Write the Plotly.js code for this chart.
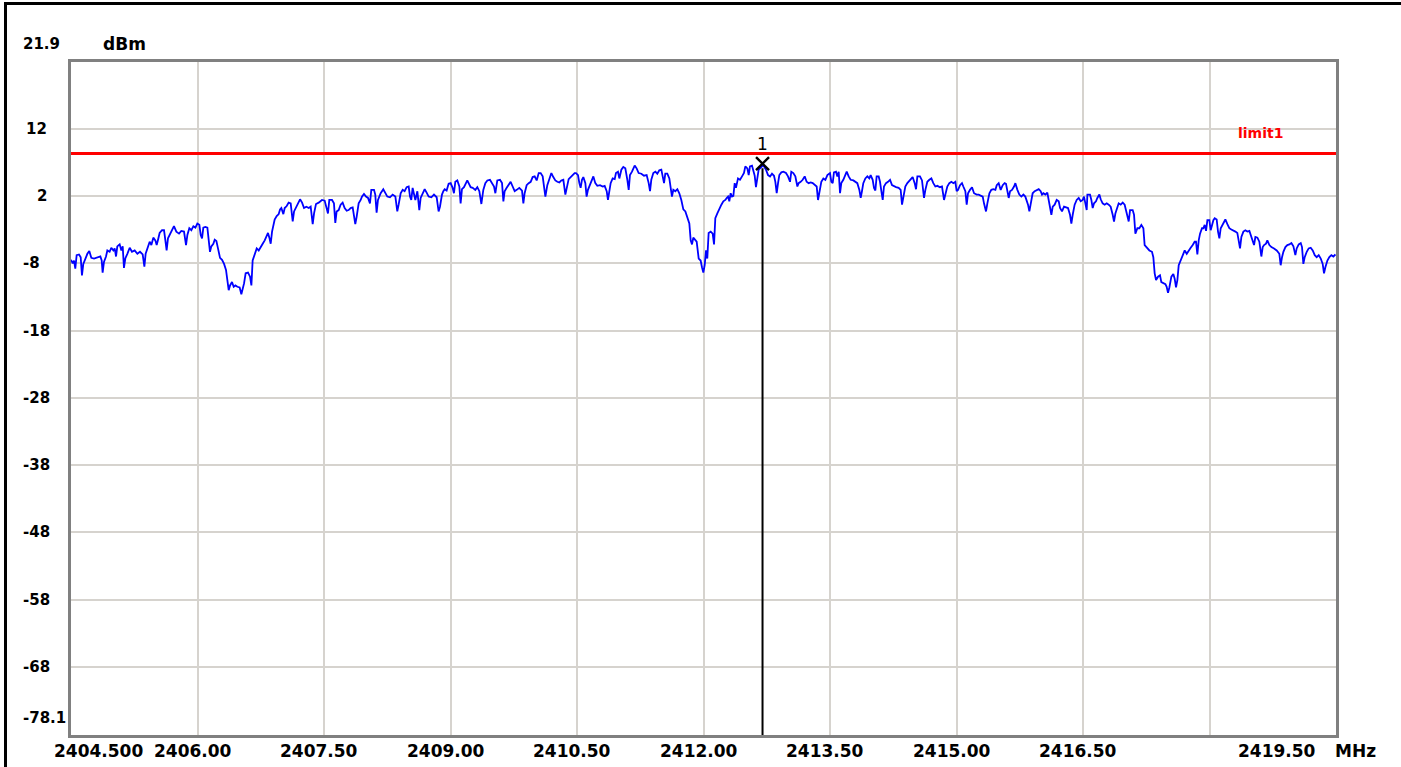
<!DOCTYPE html>
<html>
<head>
<meta charset="utf-8">
<script src="https://cdn.plot.ly/plotly-3.0.1.min.js"></script>
<style>
  html, body { margin: 0; padding: 0; background: #ffffff; overflow: hidden; }
  #chart { width: 1401px; height: 767px; }
  #frame { position: absolute; left: 4px; top: 2px; width: 1401px; height: 800px;
           border-left: 3px solid #000; border-top: 3px solid #000; pointer-events: none; }
</style>
</head>
<body>
<div id="chart"></div>
<div id="frame"></div>
<script>
// ---- axis definition ----
const xStart = 2404.5, xStop = 2419.5;
const yTop = 21.9, yBottom = -78.1;
const xGridVals = [2406.0, 2407.5, 2409.0, 2410.5, 2412.0, 2413.5, 2415.0, 2416.5, 2418.0];
const yGridVals = [12, 2, -8, -18, -28, -38, -48, -58, -68];
const xLabelVals = [2404.5, 2406.0, 2407.5, 2409.0, 2410.5, 2412.0, 2413.5, 2415.0, 2416.5, 2419.5];
const xLabelText = ['2404.500', '2406.00', '2407.50', '2409.00', '2410.50', '2412.00', '2413.50', '2415.00', '2416.50', '2419.50'];
const yLabelVals = [21.9, 12, 2, -8, -18, -28, -38, -48, -58, -68, -78.1];
const yLabelText = ['21.9', '12', '2', '-8', '-18', '-28', '-38', '-48', '-58', '-68', '-78.1'];
const xUnit = 'MHz', yUnit = 'dBm';

// ---- limit line and marker ----
const limitName = 'limit1';
const limitDbm = 8.3;
const markerName = '1';
const markerFreq = 2412.70;
const markerDbm = 6.8;

// ---- spectrum trace (MHz, dBm) ----
const freqMHz = [
2404.500,2404.520,2404.536,2404.551,2404.567,2404.595,2404.615,2404.630,2404.646,2404.670,
2404.694,2404.717,2404.741,2404.773,2404.812,2404.848,2404.864,2404.875,2404.891,2404.915,
2404.931,2404.958,2404.978,2405.002,2405.018,2405.034,2405.049,2405.077,2405.097,2405.113,
2405.128,2405.144,2405.168,2405.196,2405.223,2405.255,2405.287,2405.318,2405.350,2405.370,
2405.385,2405.413,2405.433,2405.453,2405.476,2405.500,2405.516,2405.532,2405.551,2405.579,
2405.603,2405.619,2405.634,2405.650,2405.670,2405.698,2405.721,2405.749,2405.781,2405.808,
2405.840,2405.864,2405.880,2405.903,2405.927,2405.951,2405.975,2405.998,2406.022,2406.038,
2406.054,2406.069,2406.093,2406.117,2406.133,2406.148,2406.164,2406.188,2406.204,2406.224,
2406.243,2406.267,2406.291,2406.315,2406.338,2406.354,2406.370,2406.386,2406.409,2406.429,
2406.449,2406.473,2406.500,2406.520,2406.536,2406.552,2406.571,2406.599,2406.623,2406.639,
2406.654,2406.678,2406.702,2406.726,2406.749,2406.773,2406.797,2406.820,2406.836,2406.852,
2406.868,2406.884,2406.899,2406.915,2406.939,2406.963,2406.979,2406.994,2407.018,2407.034,
2407.058,2407.081,2407.105,2407.129,2407.145,2407.168,2407.192,2407.216,2407.240,2407.263,
2407.291,2407.319,2407.342,2407.366,2407.382,2407.405,2407.437,2407.469,
2407.476,2407.508,2407.531,2407.547,2407.563,2407.595,2407.618,2407.634,2407.650,2407.674,
2407.697,2407.721,2407.745,2407.769,2407.792,2407.816,2407.840,2407.855,2407.871,2407.887,
2407.911,2407.935,2407.950,2407.974,2407.998,2408.022,2408.045,2408.061,2408.093,2408.108,
2408.124,2408.140,2408.172,2408.203,2408.227,2408.251,2408.282,2408.314,2408.346,2408.369,
2408.385,2408.409,2408.433,2408.456,2408.480,2408.504,2408.520,2408.535,2408.551,2408.567,
2408.583,2408.607,2408.630,2408.646,2408.670,2408.694,2408.717,2408.741,2408.773,2408.804,
2408.836,2408.859,2408.875,2408.899,2408.915,2408.931,2408.954,2408.978,2409.002,2409.025,
2409.041,2409.057,2409.081,2409.105,2409.120,2409.136,2409.160,2409.184,2409.199,2409.215,
2409.239,2409.263,2409.294,2409.318,2409.342,2409.366,2409.389,2409.413,2409.437,2409.468,
2409.492,2409.516,2409.532,2409.555,2409.587,2409.611,2409.627,2409.642,2409.666,2409.690,
2409.713,2409.737,2409.761,2409.785,2409.816,2409.848,2409.864,2409.879,2409.903,2409.927,
2409.951,2409.974,2409.998,2410.022,2410.046,2410.069,2410.093,2410.109,2410.125,2410.148,
2410.172,2410.196,2410.219,2410.243,2410.267,2410.291,2410.314,2410.338,2410.362,2410.378,
2410.401,2410.425,2410.449,2410.472,
2410.488,2410.512,2410.528,2410.543,2410.559,2410.575,2410.599,2410.614,2410.630,2410.646,
2410.670,2410.694,2410.717,2410.741,2410.773,2410.804,2410.828,2410.852,2410.867,2410.883,
2410.899,2410.923,2410.947,2410.962,2410.986,2411.002,2411.026,2411.049,2411.073,2411.097,
2411.113,2411.128,2411.152,2411.184,2411.207,2411.231,2411.263,2411.294,2411.326,2411.350,
2411.366,2411.381,2411.405,2411.429,2411.452,2411.476,2411.500,2411.516,2411.532,2411.547,
2411.571,2411.595,2411.611,2411.626,2411.642,2411.666,2411.690,2411.713,2411.737,2411.761,
2411.785,2411.808,2411.832,2411.848,2411.864,2411.879,2411.903,2411.919,2411.943,2411.966,
2411.982,2411.998,2412.014,2412.030,2412.045,2412.061,2412.085,2412.109,2412.125,2412.140,
2412.164,2412.188,2412.212,2412.235,2412.259,2412.275,2412.291,2412.306,2412.322,2412.338,
2412.354,2412.370,2412.385,2412.409,2412.433,2412.457,2412.480,2412.496,2412.520,2412.536,
2412.551,2412.575,2412.591,2412.607,2412.622,2412.638,2412.654,2412.670,2412.686,2412.702,
2412.717,2412.741,2412.765,2412.789,2412.812,2412.836,2412.852,2412.868,2412.884,2412.899,
2412.923,2412.947,2412.978,2413.002,2413.026,2413.041,2413.065,2413.089,2413.113,2413.128,
2413.152,2413.176,2413.200,2413.223,2413.247,2413.271,2413.295,2413.318,2413.342,2413.358,
2413.374,2413.397,2413.421,2413.445,2413.469,2413.492,
2413.500,2413.516,2413.532,2413.547,2413.571,2413.587,2413.603,2413.619,2413.634,2413.658,
2413.682,2413.698,2413.721,2413.745,2413.777,2413.800,2413.824,2413.848,2413.864,2413.879,
2413.895,2413.919,2413.943,2413.966,2413.982,2414.006,2414.022,2414.038,2414.053,2414.077,
2414.093,2414.109,2414.125,2414.140,2414.164,2414.188,2414.212,2414.235,2414.259,2414.283,
2414.314,2414.338,2414.354,2414.370,2414.393,2414.417,2414.441,2414.457,2414.480,2414.504,
2414.520,2414.536,2414.567,2414.591,2414.615,2414.631,2414.654,2414.678,2414.702,2414.725,
2414.749,2414.773,2414.804,2414.828,2414.852,2414.868,2414.891,2414.915,2414.939,2414.963,
2414.986,2415.002,2415.018,2415.042,2415.065,2415.081,2415.105,2415.121,2415.137,2415.160,
2415.184,2415.208,2415.239,2415.263,2415.287,2415.311,2415.326,2415.350,2415.366,2415.390,
2415.413,2415.437,2415.461,2415.477,2415.500,2415.524,2415.548,2415.571,2415.587,2415.603,
2415.619,2415.635,2415.658,2415.682,2415.698,2415.722,2415.745,2415.769,2415.793,2415.816,
2415.832,2415.848,2415.864,2415.880,2415.903,2415.927,2415.951,2415.975,2415.998,2416.014,
2416.030,2416.054,2416.077,2416.093,2416.109,2416.125,2416.141,2416.164,2416.188,2416.212,
2416.228,2416.251,2416.275,2416.299,2416.322,2416.346,2416.362,2416.378,2416.401,2416.425,
2416.449,2416.473,2416.496,
2416.512,2416.528,2416.544,2416.552,2416.583,2416.599,2416.615,2416.631,2416.654,2416.670,
2416.694,2416.710,2416.733,2416.757,2416.781,2416.805,2416.828,2416.852,2416.868,2416.884,
2416.907,2416.923,2416.947,2416.971,2416.994,2417.010,2417.034,2417.042,2417.058,2417.089,
2417.105,2417.121,2417.145,2417.168,2417.192,2417.216,2417.231,2417.255,2417.287,2417.318,
2417.334,2417.350,2417.366,2417.390,2417.413,2417.429,2417.453,2417.477,2417.492,2417.508,
2417.524,2417.548,2417.571,2417.587,2417.603,2417.619,2417.635,2417.658,2417.682,2417.706,
2417.730,2417.753,2417.777,2417.801,2417.824,2417.840,2417.856,2417.872,2417.888,2417.911,
2417.927,2417.943,2417.959,2417.975,2417.998,2418.014,2418.030,2418.046,2418.062,2418.085,
2418.101,2418.117,2418.133,2418.156,2418.172,2418.188,2418.212,2418.235,2418.259,2418.283,
2418.307,2418.330,2418.346,2418.362,2418.378,2418.402,2418.425,2418.449,2418.473,2418.489,
2418.512,2418.528,2418.544,2418.568,2418.591,2418.615,2418.631,2418.647,2418.670,2418.686,
2418.710,2418.734,2418.765,2418.797,2418.828,2418.844,2418.860,2418.876,2418.900,2418.923,
2418.947,2418.971,2418.995,2419.018,2419.034,2419.058,2419.082,2419.097,2419.113,2419.129,
2419.153,2419.176,2419.200,2419.224,2419.248,2419.271,2419.295,2419.319,2419.342,2419.358,
2419.374,2419.398,2419.421,2419.445,2419.469,2419.493
];
const levelDbm = [
-7.5,-8.0,-7.6,-8.8,-6.8,-6.7,-7.1,-9.8,-8.1,-7.3,
-6.6,-6.2,-7.2,-7.3,-7.1,-7.0,-7.6,-9.4,-7.8,-7.0,
-6.1,-6.3,-5.7,-6.1,-5.8,-7.0,-5.5,-5.2,-6.1,-5.5,
-8.7,-7.3,-6.6,-5.7,-6.3,-6.1,-6.6,-6.3,-6.7,-8.5,
-6.6,-5.3,-4.8,-5.3,-4.2,-4.6,-5.3,-4.5,-3.5,-3.1,
-3.1,-4.6,-6.1,-4.3,-3.8,-3.0,-2.5,-3.3,-3.6,-3.2,
-3.3,-5.3,-3.8,-2.8,-3.1,-2.5,-2.7,-2.1,-2.3,-3.8,
-4.3,-2.7,-2.6,-2.7,-4.8,-6.3,-5.5,-5.1,-4.5,-4.7,
-5.8,-7.2,-7.5,-8.1,-9.0,-10.6,-12.0,-11.3,-10.8,-11.5,
-11.3,-11.5,-11.6,-12.6,-11.9,-11.0,-9.5,-9.4,-10.0,-11.3,
-7.6,-6.8,-5.8,-6.1,-5.5,-5.1,-4.6,-4.0,-3.5,-4.2,
-5.1,-3.3,-2.5,-1.5,-1.0,-0.7,0.0,0.2,-0.7,0.2,
0.5,1.0,0.9,-1.8,-0.3,0.3,0.9,1.5,1.0,0.2,
0.4,0.2,0.4,-2.2,-0.6,0.8,1.0,1.4,
1.4,1.3,0.2,-0.6,1.4,1.4,0.9,-2.0,-0.3,-0.1,
0.7,1.0,0.2,-0.2,-0.1,0.2,0.3,-0.8,-2.2,-1.1,
0.9,1.4,1.9,2.3,1.9,1.7,0.9,2.9,2.9,2.2,
-0.5,1.4,2.4,3.0,2.4,1.9,1.8,2.2,1.9,-0.3,
0.7,2.4,2.9,2.7,3.3,3.4,1.9,1.4,3.2,2.3,
1.4,2.7,-0.1,1.7,2.4,3.0,2.5,1.9,1.8,2.2,
1.8,-0.3,0.4,2.2,2.7,3.0,2.8,3.8,3.9,3.2,
2.4,4.1,4.3,3.4,0.9,3.0,3.3,3.9,4.3,3.9,
3.3,3.2,2.9,3.3,2.7,0.8,2.9,3.9,4.3,4.4,
3.9,3.4,2.4,4.3,4.4,3.9,1.2,2.7,3.2,3.6,
4.1,3.4,2.7,2.9,3.2,2.8,0.9,2.4,3.6,3.9,
4.1,4.8,4.9,4.3,5.4,5.4,4.9,3.4,1.9,3.6,
4.6,5.4,4.8,4.3,4.1,4.0,4.3,4.4,2.2,3.4,
4.5,4.8,5.1,5.4,
5.4,5.1,3.9,3.2,4.4,4.8,3.9,1.9,2.9,3.4,
3.9,4.9,3.9,3.5,3.6,3.4,3.5,2.7,1.4,2.9,
3.9,4.6,4.5,5.4,5.6,4.6,5.9,6.3,6.1,4.4,
2.9,5.1,5.6,6.5,6.1,5.4,5.3,5.0,5.1,3.9,
2.7,4.4,5.4,5.6,5.3,5.8,5.9,4.9,3.9,5.3,
5.3,4.6,3.4,1.9,2.9,2.7,3.0,2.4,1.4,0.0,
-0.3,-1.3,-2.1,-4.6,-5.2,-4.2,-4.5,-4.8,-7.3,-7.6,
-8.6,-9.4,-8.3,-6.1,-7.3,-3.5,-3.3,-3.6,-5.2,-1.3,
-0.6,0.2,0.7,1.2,1.4,1.7,1.9,1.2,2.4,1.9,
2.0,3.9,3.2,4.6,4.4,4.9,5.4,6.4,6.1,5.1,
6.4,6.5,5.9,5.0,3.3,4.9,5.9,6.1,6.4,6.5,
6.4,5.9,5.1,4.9,5.3,5.0,4.1,2.4,3.9,5.1,
5.5,5.6,5.4,4.9,4.1,5.6,5.4,4.9,3.4,3.9,
4.1,4.4,4.9,4.1,3.9,4.0,3.9,3.6,3.4,1.4,
2.7,4.1,4.6,4.4,5.1,5.4,
5.4,4.1,3.9,5.5,5.6,4.9,5.6,2.4,3.9,4.4,
5.1,5.6,4.9,4.4,4.3,4.1,3.9,2.9,1.7,2.7,
3.9,4.6,4.9,4.6,5.1,4.4,3.2,2.8,4.9,4.9,
4.1,2.7,1.4,3.4,3.9,4.1,4.4,3.6,3.4,3.3,
3.2,2.9,0.7,1.9,3.4,3.9,4.3,4.6,4.8,3.9,
3.0,4.9,4.9,4.3,1.7,2.9,4.1,4.4,4.6,3.9,
3.4,3.5,3.3,3.4,1.4,2.2,3.4,3.9,4.1,3.9,
4.1,2.7,2.9,3.6,3.9,3.4,2.7,0.7,2.4,2.9,
3.3,2.4,2.2,2.2,2.0,1.9,0.9,-0.3,0.9,2.4,
2.9,3.0,2.9,3.6,3.9,2.9,3.6,3.9,3.8,2.9,
1.7,2.7,2.9,3.4,3.9,2.9,2.2,1.9,2.2,1.9,
1.4,0.7,-0.3,0.9,2.4,2.7,2.9,3.0,2.7,2.2,
2.4,2.2,2.5,1.2,-0.1,-0.8,0.4,0.7,1.4,1.2,
0.2,-0.3,0.4,0.3,0.2,-0.8,-2.1,-0.8,0.7,1.4,
1.7,1.2,1.4,
1.9,0.9,-0.1,2.2,2.2,1.4,0.2,0.9,1.2,1.7,
2.2,1.5,0.9,0.7,0.9,0.7,0.4,-0.8,-1.8,-0.6,
0.2,0.9,0.7,1.0,0.7,-0.1,-1.1,-1.8,-0.1,-0.1,
-0.8,-3.6,-2.8,-2.8,-2.3,-2.8,-5.3,-5.6,-6.1,-6.3,
-7.1,-9.5,-10.5,-10.0,-9.8,-10.8,-11.0,-11.1,-11.5,-12.4,
-11.6,-10.0,-9.6,-10.3,-11.6,-10.5,-8.3,-7.6,-6.8,-6.1,
-6.6,-6.1,-5.7,-5.3,-4.8,-4.8,-6.7,-4.6,-3.6,-2.8,
-2.8,-2.3,-3.2,-1.6,-1.6,-3.1,-2.3,-1.6,-1.3,-1.5,
-3.3,-4.3,-2.8,-2.3,-1.8,-1.5,-2.2,-2.8,-3.0,-3.1,
-3.3,-3.5,-4.6,-5.8,-4.1,-3.3,-3.1,-3.3,-3.2,-3.8,
-4.6,-5.3,-4.1,-4.2,-4.8,-7.0,-5.6,-5.3,-5.1,-4.6,
-5.3,-5.6,-5.8,-6.1,-6.6,-8.3,-7.1,-6.3,-5.6,-5.3,
-5.2,-5.0,-5.5,-6.8,-5.8,-5.2,-5.0,-5.6,-8.1,-7.1,
-6.3,-5.8,-5.7,-6.1,-6.8,-7.1,-6.8,-7.3,-8.1,-9.5,
-8.6,-7.6,-7.1,-6.8,-7.0,-6.7
];

// ---- styles ----
const FONT_FAMILY = 'DejaVu Sans, Liberation Sans, sans-serif';
const yFont = { family: FONT_FAMILY, size: 15, color: '#000000', weight: 'bold' };
const xFont = { family: FONT_FAMILY, size: 17, color: '#000000', weight: 'bold' };
const gridColor = '#d6d3ce';
const frameColor = '#808080';

const PLOT_L = 71, PLOT_R = 1336, PLOT_T = 62, PLOT_B = 735;
const plotW = PLOT_R - PLOT_L;

const annotations = [];
// y labels: edge values and negatives left-aligned, inner positives right-aligned
yLabelVals.forEach((v, i) => {
  let shift = 0;
  const edge = (v === yTop || v === yBottom);
  if (v === yTop) shift = 18;
  if (v === yBottom) shift = 17;
  const leftAligned = edge || v < 0;
  annotations.push({
    xref: 'paper', yref: 'y',
    x: leftAligned ? (21 - PLOT_L) / plotW : (49 - PLOT_L) / plotW,
    y: v, xanchor: leftAligned ? 'left' : 'right', yanchor: 'middle',
    yshift: shift, text: yLabelText[i], showarrow: false, font: yFont
  });
});
annotations.push({
  xref: 'paper', yref: 'y', x: (101 - PLOT_L) / plotW, y: yTop, xanchor: 'left', yanchor: 'middle',
  yshift: 18, text: yUnit, showarrow: false, font: xFont
});
// x labels
xLabelVals.forEach((v, i) => {
  let anchor = 'center', shift = -5;
  if (i === 0) { anchor = 'left'; shift = -19; }
  if (i === xLabelVals.length - 1) { anchor = 'right'; shift = -18; }
  annotations.push({
    xref: 'x', yref: 'paper', x: v, y: 0, xanchor: anchor, yanchor: 'top', xshift: shift, yshift: -4,
    text: xLabelText[i], showarrow: false, font: xFont
  });
});
annotations.push({
  xref: 'paper', yref: 'paper', x: 1, y: 0, xanchor: 'left', yanchor: 'top', xshift: -3, yshift: -4,
  text: xUnit, showarrow: false, font: xFont
});
// limit label
annotations.push({
  xref: 'x', yref: 'y', x: 2418.60, y: limitDbm, xanchor: 'center', yanchor: 'bottom', yshift: 11,
  text: limitName, showarrow: false,
  font: { family: FONT_FAMILY, size: 14, color: '#ff0000', weight: 'bold' }
});

const traces = [
  {
    type: 'scatter', mode: 'lines', x: freqMHz, y: levelDbm,
    line: { color: '#0000ff', width: 1.8, shape: 'linear' }, hoverinfo: 'skip'
  },
  {
    type: 'scatter', mode: 'markers+text', x: [markerFreq], y: [markerDbm], text: [markerName],
    textposition: 'top center',
    textfont: { family: FONT_FAMILY, size: 17, color: '#000000' },
    marker: { symbol: 'x-thin-open', size: 13, color: '#000000', line: { color: '#000000', width: 2.4 } },
    hoverinfo: 'skip', cliponaxis: false
  }
];

const layout = {
  width: 1401, height: 767,
  margin: { l: PLOT_L, r: 1401 - PLOT_R, t: PLOT_T, b: 767 - PLOT_B, pad: 0 },
  paper_bgcolor: '#ffffff', plot_bgcolor: '#ffffff',
  showlegend: false,
  xaxis: {
    range: [xStart, xStop], tickmode: 'array', tickvals: xGridVals, showticklabels: false,
    showgrid: true, gridcolor: gridColor, gridwidth: 2, zeroline: false,
    showline: true, linecolor: frameColor, linewidth: 3, mirror: true, ticks: '', fixedrange: true
  },
  yaxis: {
    range: [yBottom, yTop], tickmode: 'array', tickvals: yGridVals, showticklabels: false,
    showgrid: true, gridcolor: gridColor, gridwidth: 2, zeroline: false,
    showline: true, linecolor: frameColor, linewidth: 3, mirror: true, ticks: '', fixedrange: true
  },
  shapes: [
    { type: 'line', xref: 'paper', yref: 'y', x0: 0, x1: 1, y0: limitDbm, y1: limitDbm,
      line: { color: '#ff0000', width: 3 } },
    { type: 'line', xref: 'x', yref: 'y', x0: markerFreq, x1: markerFreq, y0: yBottom, y1: markerDbm - 0.7,
      line: { color: '#000000', width: 2 } }
  ],
  annotations: annotations
};

Plotly.newPlot('chart', traces, layout, { displayModeBar: false, staticPlot: true });
</script>
</body>
</html>
